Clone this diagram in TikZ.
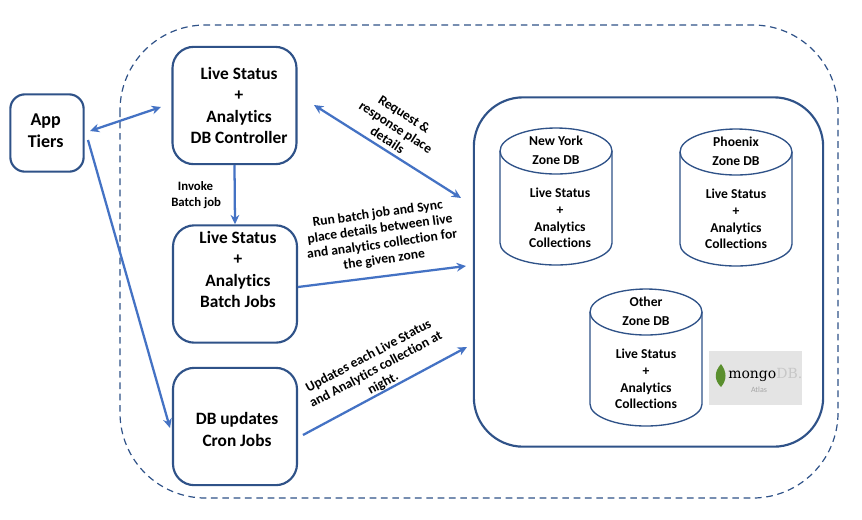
\documentclass[tikz,border=0pt]{standalone}
\usepackage{fontspec}
\setmainfont[Ligatures=NoCommon]{Carlito}
\newfontfamily\logofont{DejaVu Serif}
\usetikzlibrary{arrows.meta}
\definecolor{boxblue}{HTML}{2F5288}
\definecolor{arrowblue}{HTML}{4472C4}
\definecolor{logogray}{HTML}{E4E4E4}
\definecolor{leafgreen}{HTML}{5A8F2E}
\tikzset{
  x=0.75pt,y=-0.75pt,
  box/.style={draw=boxblue,line width=1.6pt,fill=white,rounded corners=#1},
  stagebox/.style={box=16pt,minimum width=93pt,minimum height=88pt,inner sep=0pt},
  stagetext/.style={align=center,font=\bfseries\fontsize{13}{15.8}\selectfont,inner sep=0pt},
  conn/.style={draw=arrowblue,line width=1.7pt,-{Stealth[length=7pt,width=6.5pt]}},
  bothconn/.style={conn,{Stealth[length=7pt,width=6.5pt]}-{Stealth[length=7pt,width=6.5pt]}},
  lab/.style={align=center,font=\bfseries\fontsize{10.2}{11.6}\selectfont,inner sep=0pt},
  cyl/.style={draw=boxblue,line width=1pt},
  cyltext/.style={align=center,font=\bfseries\fontsize{10.2}{12.5}\selectfont,inner sep=0pt},
}
\newcommand{\dbcyl}[4]{%
  \draw[cyl] (#1,#2+23) -- (#1,#2+115) arc[start angle=180,end angle=0,x radius=56,y radius=22] -- (#1+112,#2+23);
  \draw[cyl] (#1+56,#2+23) ellipse[x radius=56,y radius=23];
  \node[cyltext,font=\bfseries\fontsize{10.2}{14}\selectfont] at (#1+56,#2+22.5) {#3\\Zone DB};
  \node[cyltext] at (#1+56+#4,#2+90) {Live Status\\+\\Analytics\\Collections};
}
\begin{document}
\begin{tikzpicture}
\useasboundingbox (0,0) rectangle (862,519);
\fill[white] (0,0) rectangle (862,519);
\draw[boxblue,line width=0.9pt,dash pattern=on 5pt off 3.5pt,rounded corners=64pt] (120,25) rectangle (838,498);

\node[box=11pt,minimum width=55pt,minimum height=58pt,inner sep=0pt,
  label={[stagetext,font=\bfseries\fontsize{13.5}{16.5}\selectfont,xshift=-1pt,yshift=1.5pt]center:App\\Tiers}] (app) at (47,133) {};
\node[stagebox,label={[stagetext,xshift=3.4pt]center:Live Status\\+\\Analytics\\DB Controller}] (ctrl) at (234.5,105.5) {};
\node[stagebox,label={[stagetext,xshift=2.2pt,yshift=10.9pt]center:Live Status\\+\\Analytics\\Batch Jobs}] (batch) at (235,284) {};
\node[stagebox,label={[stagetext,font=\bfseries\fontsize{13}{16}\selectfont,xshift=1.5pt,yshift=-2.2pt]center:DB updates\\Cron Jobs}] (cron) at (235,426.5) {};
\node[box=37pt,minimum width=262pt,minimum height=262pt] (zone) at (648.5,272) {};

\dbcyl{500}{128}{New York}{4}
\dbcyl{680}{129}{Phoenix}{0}
\dbcyl{590}{289}{Other}{0}

\fill[logogray] (709,351) rectangle (802,405);
\fill[leafgreen] (721,364) .. controls (714,372) and (714,380) .. (721,387) .. controls (727,380) and (727,372) .. (721,364) -- cycle;
\node[inner sep=0pt,anchor=west,font=\logofont\fontsize{10.5}{12}\selectfont] (logo) at (728,375) {mongo\textcolor{black!22}{DB.}};
\node[inner sep=0pt,font=\fontsize{6}{6}\selectfont,text=black!35] (atlas) at (759,390) {Atlas};

\coordinate (a1) at (90,131); \coordinate (c1) at (161,107);
\coordinate (a2) at (88,140); \coordinate (c2) at (170,428);
\coordinate (z1) at (461,198); \coordinate (c3) at (314,105);
\coordinate (b1) at (298,287); \coordinate (z2) at (466,266);
\coordinate (k1) at (303,435); \coordinate (z3) at (467,347);
\draw[bothconn] (a1) -- (c1);
\draw[conn] (a2) -- (c2);
\draw[conn] (ctrl.south) -- (batch.north);
\draw[bothconn] (c3) -- (z1);
\draw[conn] (b1) -- (z2);
\draw[conn] (k1) -- (z3);

\node[lab,font=\bfseries\fontsize{9.6}{12}\selectfont,align=left,anchor=west] (inv) at (171,195) {\hspace{5pt}Invoke\\Batch job};
\node[lab,rotate=-33] (l1) at (396,127) {Request \&\\response place\\details};
\node[lab,rotate=8] (l2) at (381,237) {Run batch job and Sync\\place details between live\\and analytics collection for\\the given zone};
\node[lab,rotate=28] (l3) at (376,370) {Updates each Live Status\\and Analytics collection at\\night.};
\end{tikzpicture}
\end{document}
